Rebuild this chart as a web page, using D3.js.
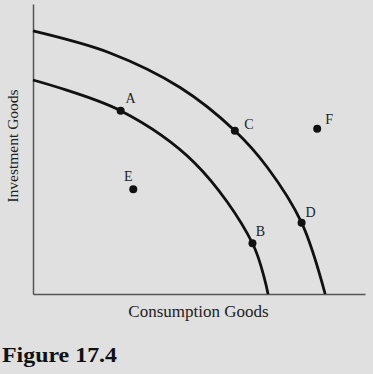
<!DOCTYPE html>
<html lang="en">
<head>
  <meta charset="UTF-8">
  <title>Figure 17.4</title>
<style>
  body { margin: 0; background: #e0e0e0; }
  svg { display: block; }
  text { font-family: "Liberation Serif", "DejaVu Serif", serif; fill: #222; }
</style>
</head>
<body>

<svg id="chart" width="373" height="374"></svg>

<script src="https://cdnjs.cloudflare.com/ajax/libs/d3/7.8.5/d3.min.js"></script>

<script>

// curves (consumption, investment)
var outerCurve = [[0, 9.07], [2.32, 8.31], [4.43, 7.12], [6.08, 5.63], [7.05, 4.38],
  [8.09, 2.46], [8.80, 0]];
var innerCurve = [[0, 7.38], [2.64, 6.32], [4.87, 4.52], [6.61, 1.75], [7.08, 0]];

var pointNames = ["A", "B", "C", "D", "E", "F"];
var pointX = [2.64, 6.61, 6.08, 8.09, 3.02, 8.56];
var pointY = [6.32, 1.75, 5.63, 2.46, 3.61, 5.70];

var xLabel = "Consumption Goods",
  yLabel = "Investment Goods",
  caption = "Figure 17.4";

var svg = d3.select("#chart"),
  x = d3.scaleLinear().domain([0, 10]).range([33, 365]),
  y = d3.scaleLinear().domain([0, 10]).range([294, 4]);

// label offsets from each dot, in px
var labelOffset = {A: [10, -8], B: [8, -7], C: [14, -2], D: [9, -6], E: [-5, -8], F: [12, -5]};

svg.append("g")
    .attr("transform", "translate(" + x(0) + ",0)")
    .call(d3.axisLeft(y).ticks(0).tickSizeOuter(0))
    .select(".domain").attr("stroke", "#555").attr("stroke-width", 1.5);

svg.append("g")
    .attr("transform", "translate(0," + y(0) + ")")
    .call(d3.axisBottom(x).ticks(0).tickSizeOuter(0))
    .select(".domain").attr("stroke", "#555").attr("stroke-width", 1.5);

var line = d3.line()
  .x(function (d) { return x(d[0]); })
  .y(function (d) { return y(d[1]); })
  .curve(d3.curveCatmullRom.alpha(0.5));

svg.selectAll(".ppf")
  .data([innerCurve, outerCurve])
  .enter().append("path")
    .attr("class", "ppf")
    .attr("d", line)
    .attr("fill", "none")
    .attr("stroke", "#111")
    .attr("stroke-width", 2.8);

var pts = pointNames.map(function (n, i) { return {name: n, x: pointX[i], y: pointY[i]}; });

svg.selectAll(".dot")
  .data(pts)
  .enter().append("circle")
    .attr("class", "dot")
    .attr("cx", function (d) { return x(d.x); })
    .attr("cy", function (d) { return y(d.y); })
    .attr("r", 4)
    .attr("fill", "#111");

svg.selectAll(".lbl")
  .data(pts)
  .enter().append("text")
    .attr("class", "lbl")
    .attr("x", function (d) { return x(d.x) + labelOffset[d.name][0]; })
    .attr("y", function (d) { return y(d.y) + labelOffset[d.name][1]; })
    .attr("text-anchor", "middle")
    .style("font-size", "14px")
    .text(function (d) { return d.name; });

svg.append("text")
    .attr("x", 198.5)
    .attr("y", 317)
    .attr("text-anchor", "middle")
    .style("font-size", "17px")
    .text(xLabel);

svg.append("text")
    .attr("transform", "translate(18,146) rotate(-90)")
    .attr("text-anchor", "middle")
    .style("font-size", "15.5px")
    .text(yLabel);

svg.append("text")
    .attr("x", 2)
    .attr("y", 361.5)
    .attr("textLength", 115)
    .attr("lengthAdjust", "spacingAndGlyphs")
    .style("font-size", "21px")
    .style("font-weight", "bold")
    .style("fill", "#111")
    .text(caption);

</script>

</body>
</html>
